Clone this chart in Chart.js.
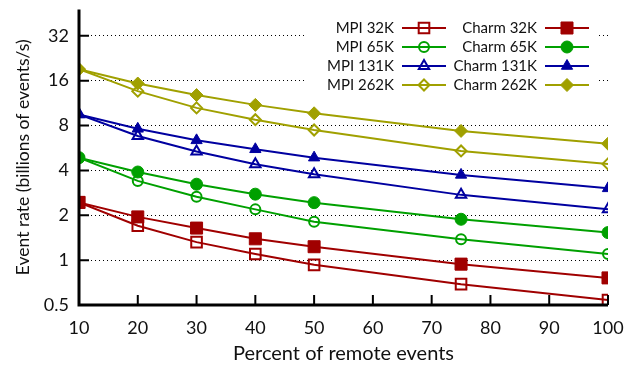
<!DOCTYPE html>
<html>
<head>
<meta charset="utf-8">
<script src="https://cdn.jsdelivr.net/npm/chart.js@4.4.1/dist/chart.umd.min.js"></script>
<style>
  html, body { margin: 0; padding: 0; background: #fff; }
  #wrap { width: 626px; height: 366px; }
</style>
</head>
<body>
<div id="wrap"><canvas id="rateChart"></canvas></div>
<script>
// x values (percent of remote events) and y tick values
const remotePercent = [10, 20, 30, 40, 50, 75, 100];
const yTickValues = [0.5, 1, 2, 4, 8, 16, 32];

// event rate, billions of events/s
const mpi32    = [2.44, 1.70, 1.32, 1.10, 0.93, 0.69, 0.54];
const charm32  = [2.44, 1.95, 1.64, 1.39, 1.23, 0.94, 0.76];
const mpi65    = [4.87, 3.40, 2.66, 2.19, 1.81, 1.38, 1.10];
const charm65  = [4.87, 3.90, 3.23, 2.77, 2.43, 1.88, 1.53];
const mpi131   = [9.5, 6.8, 5.35, 4.40, 3.77, 2.74, 2.19];
const charm131 = [9.5, 7.6, 6.36, 5.54, 4.87, 3.73, 3.03];
const mpi262   = [19.1, 13.6, 10.5, 8.75, 7.46, 5.40, 4.42];
const charm262 = [19.1, 15.3, 12.8, 11.0, 9.66, 7.36, 6.04];

const FONT = 'Lato, "Open Sans", sans-serif';
const RED = '#a00000', GREEN = '#00a000', BLUE = '#0000a0', OLIVE = '#a0a000';

function series(label, values, color, style, radius, filled) {
    return {
        label: label,
        data: values.map((v, i) => ({ x: remotePercent[i], y: v })),
        borderColor: color,
        borderWidth: 2,
        pointStyle: style,
        pointRadius: radius,
        pointHoverRadius: radius,
        pointBorderColor: color,
        pointBorderWidth: filled ? 1 : 2,
        pointBackgroundColor: filled ? color : 'rgba(0,0,0,0)',
        tension: 0
    };
}

const datasets = [
    series('MPI 32K', mpi32, RED, 'rect', 7.5, false),
    series('Charm 32K', charm32, RED, 'rect', 8.5, true),
    series('MPI 65K', mpi65, GREEN, 'circle', 5, false),
    series('Charm 65K', charm65, GREEN, 'circle', 6, true),
    series('MPI 131K', mpi131, BLUE, 'triangle', 6, false),
    series('Charm 131K', charm131, BLUE, 'triangle', 6.5, true),
    series('MPI 262K', mpi262, OLIVE, 'rectRot', 5.5, false),
    series('Charm 262K', charm262, OLIVE, 'rectRot', 6.5, true)
];

function drawMarker(ctx, style, r, x, y) {
    ctx.beginPath();
    if (style === 'rect') {
        const s = r * Math.SQRT1_2;
        ctx.rect(x - s, y - s, 2 * s, 2 * s);
    } else if (style === 'circle') {
        ctx.arc(x, y, r, 0, Math.PI * 2);
    } else if (style === 'triangle') {
        ctx.moveTo(x, y - r);
        ctx.lineTo(x + r * Math.sin(Math.PI * 2 / 3), y - r * Math.cos(Math.PI * 2 / 3));
        ctx.lineTo(x + r * Math.sin(Math.PI * 4 / 3), y - r * Math.cos(Math.PI * 4 / 3));
    } else {
        ctx.moveTo(x, y - r);
        ctx.lineTo(x + r, y);
        ctx.lineTo(x, y + r);
        ctx.lineTo(x - r, y);
    }
    ctx.closePath();
    ctx.fill();
    ctx.stroke();
}

// gnuplot look: key box, axis lines, inward tick marks
const gnuplotLook = {
    id: 'gnuplotLook',
    afterDraw(chart) {
        const { ctx, chartArea, scales } = chart;
        ctx.save();
        ctx.setLineDash([]);

        // key: text then line sample with marker
        ctx.fillStyle = '#fff';
        ctx.fillRect(306, 17, 290, 77);
        ctx.font = '15px ' + FONT;
        ctx.textAlign = 'right';
        ctx.textBaseline = 'middle';
        const rowY = [28, 47, 66, 85];
        const cols = [{ textX: 394, x0: 402, x1: 446 }, { textX: 537, x0: 545, x1: 589 }];
        chart.data.datasets.forEach((ds, i) => {
            const col = cols[i % 2];
            const y = rowY[Math.floor(i / 2)];
            ctx.fillStyle = '#111';
            ctx.fillText(ds.label, col.textX, y);
            ctx.strokeStyle = ds.borderColor;
            ctx.lineWidth = 2;
            ctx.beginPath();
            ctx.moveTo(col.x0, y);
            ctx.lineTo(col.x1, y);
            ctx.stroke();
            ctx.fillStyle = ds.pointBackgroundColor;
            ctx.lineWidth = ds.pointBorderWidth;
            drawMarker(ctx, ds.pointStyle, ds.pointRadius, (col.x0 + col.x1) / 2, y);
        });

        // ticks + axes
        const left = chartArea.left, bottom = chartArea.bottom;
        ctx.strokeStyle = '#000';
        ctx.lineWidth = 2;
        ctx.beginPath();
        scales.x.ticks.forEach(t => {
            const px = scales.x.getPixelForValue(t.value);
            ctx.moveTo(px, bottom);
            ctx.lineTo(px, bottom - 10);
        });
        scales.y.ticks.forEach(t => {
            const py = scales.y.getPixelForValue(t.value);
            ctx.moveTo(left, py);
            ctx.lineTo(left + 10, py);
        });
        ctx.stroke();
        ctx.lineWidth = 3;
        ctx.beginPath();
        ctx.moveTo(left, chartArea.top);
        ctx.lineTo(left, bottom);
        ctx.lineTo(chartArea.right, bottom);
        ctx.stroke();
        ctx.restore();
    }
};

new Chart(document.getElementById('rateChart'), {
    type: 'line',
    data: { datasets: datasets },
    options: {
        responsive: true,
        maintainAspectRatio: false,
        animation: false,
        layout: { padding: { top: 8, right: 18, left: 0, bottom: 0 } },
        plugins: {
            legend: { display: false },
            tooltip: { enabled: false }
        },
        scales: {
            x: {
                type: 'linear',
                min: 10,
                max: 100,
                afterFit: s => { s.height = 61; s.paddingLeft = 0; s.paddingRight = 0; },
                ticks: { stepSize: 10, color: '#111', padding: 12, font: { family: FONT, size: 18 } },
                grid: { drawOnChartArea: false, drawTicks: false },
                border: { display: false },
                title: {
                    display: true,
                    text: 'Percent of remote events',
                    color: '#111',
                    font: { family: FONT, size: 20 },
                    padding: { top: 0, bottom: 0 }
                }
            },
            y: {
                type: 'logarithmic',
                min: 0.5,
                max: 48,
                afterFit: s => { s.width = 79; s.paddingTop = 0; s.paddingBottom = 0; },
                afterBuildTicks: s => { s.ticks = yTickValues.map(v => ({ value: v })); },
                ticks: {
                    color: '#111',
                    padding: 10,
                    font: { family: FONT, size: 18 },
                    callback: v => String(v)
                },
                grid: {
                    drawTicks: false,
                    lineWidth: 1,
                    color: c => (c.tick && c.tick.value === 0.5) ? 'rgba(0,0,0,0)' : '#000'
                },
                border: { display: false, dash: [1, 3] },
                title: {
                    display: true,
                    text: 'Event rate (billions of events/s)',
                    color: '#111',
                    font: { family: FONT, size: 17.5 },
                    padding: { top: 13, bottom: 0 }
                }
            }
        }
    },
    plugins: [gnuplotLook]
});
</script>
</body>
</html>
